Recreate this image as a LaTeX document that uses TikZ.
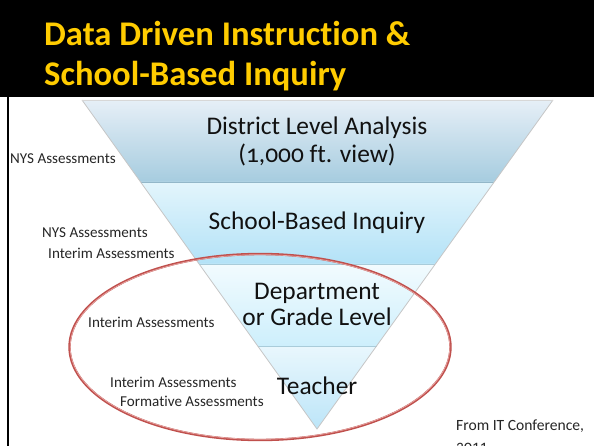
\documentclass[tikz,border=0pt]{standalone}
\usepackage{fontspec}
\setmainfont{Carlito}[Numbers=OldStyle, Ligatures=NoCommon]
\definecolor{ttl}{HTML}{FFCC00}
\definecolor{bonetop}{HTML}{E6EFF7}
\definecolor{bonebot}{HTML}{A6CCDF}
\definecolor{btwotop}{HTML}{E3F5FC}
\definecolor{btwobot}{HTML}{B3E2F7}
\definecolor{bthrtop}{HTML}{F2FBFE}
\definecolor{bthrbot}{HTML}{CDEFFC}
\definecolor{bfourtop}{HTML}{E9F7FD}
\definecolor{bfourbot}{HTML}{BCE5F8}
\definecolor{sepc}{HTML}{93B7C9}
\definecolor{sepd}{HTML}{A9CCDA}
\definecolor{edgec}{HTML}{C6C6C6}
\definecolor{ellc}{HTML}{C0504D}
\definecolor{ellin}{HTML}{E8A8A6}
\definecolor{txt}{HTML}{111111}
\definecolor{lbl}{HTML}{262626}
\tikzset{
  bandtext/.style={font=\fontsize{25.4}{30}\selectfont, text=txt, align=center, inner sep=0pt},
  sidelabel/.style={font=\fontsize{15.1}{18}\selectfont, text=lbl, anchor=base west, inner sep=0pt},
  srclabel/.style={font=\fontsize{15.6}{18}\selectfont, text=lbl, anchor=base west, inner sep=0pt},
  titletext/.style={font=\fontsize{34.6}{40}\selectfont\bfseries, text=ttl, anchor=base west, inner sep=0pt},
}
\begin{document}
\begin{tikzpicture}[x=1pt,y=-1pt]
\useasboundingbox (0,0) rectangle (594,446);
\clip (0,0) rectangle (594,446);
\fill[white] (0,0) rectangle (594,446);
% title band
\fill[black] (0,0) rectangle (594,97.5);
\node[titletext] (t1) at (44,46) {Data Driven Instruction \&};
\node[titletext] (t2) at (44,86) {School-Based Inquiry};
% left rule
\draw[black, line width=2.6pt] (8,97) -- (8,446);
% funnel bands
\shade[top color=bonetop, bottom color=bonebot] (82,100) -- (553,100) -- (494.2,182) -- (140.6,182) -- cycle;
\shade[top color=btwotop, bottom color=btwobot] (140.6,182) -- (494.2,182) -- (435.4,264) -- (199.1,264) -- cycle;
\shade[top color=bthrtop, bottom color=bthrbot] (199.1,264) -- (435.4,264) -- (376.5,346) -- (257.7,346) -- cycle;
\shade[top color=bfourtop, bottom color=bfourbot] (257.7,346) -- (376.5,346) -- (317,429) -- cycle;
\draw[sepc, line width=0.9pt] (140.6,182) -- (494.2,182);
\draw[sepd, line width=0.9pt] (199.1,264) -- (435.4,264);
\draw[sepd, line width=0.9pt] (257.7,346) -- (376.5,346);
\draw[edgec, line width=0.8pt] (82,100) -- (317,429) -- (553,100);
\draw[edgec!70, line width=0.6pt] (82,100) -- (553,100);
% band texts
\node[bandtext, anchor=base] (d1) at (317,135) {District Level Analysis};
\node[bandtext, anchor=base] (d2) at (317,163) {(1,000 ft. view)};
\node[bandtext, anchor=base] (s1) at (317,230) {School-Based Inquiry};
\node[bandtext, anchor=base] (g1) at (317,299) {Department};
\node[bandtext, anchor=base] (g2) at (317,325) {or Grade Level};
\node[bandtext, anchor=base] (te) at (317,394) {Teacher};
% side labels
\node[sidelabel] (l1) at (10,164) {NYS Assessments};
\node[sidelabel] (l2) at (42,238) {NYS Assessments};
\node[sidelabel] (l3) at (48,259) {Interim Assessments};
\node[sidelabel] (l4) at (88,327) {Interim Assessments};
\node[sidelabel] (l5) at (110,387) {Interim Assessments};
\node[sidelabel] (l6) at (120,406) {Formative Assessments};
\node[srclabel] (src1) at (456,430) {From IT Conference,};
\node[srclabel] (src2) at (456,451) {2011};
% red ellipse
\draw[ellc, line width=2.4pt] (260,347) ellipse [x radius=190.5, y radius=93];
\draw[ellin, line width=0.7pt] (260,347) ellipse [x radius=189.8, y radius=92.3];
\end{tikzpicture}
\end{document}
